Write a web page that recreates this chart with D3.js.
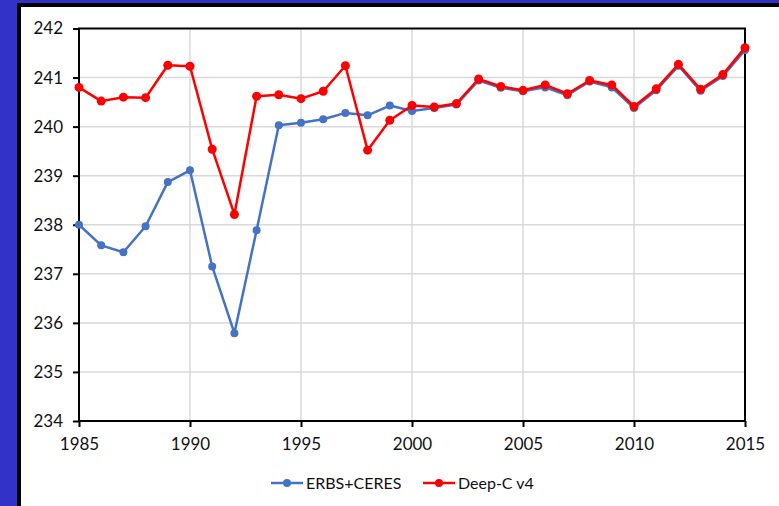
<!DOCTYPE html>
<html>
<head>
<meta charset="utf-8">
<script src="https://cdn.jsdelivr.net/npm/d3@7"></script>
<style>
  html, body { margin: 0; padding: 0; background: #3232c8; }
  svg { display: block; }
</style>
</head>
<body>
<svg id="chart" width="779" height="506"></svg>
<script>
// Absorbed solar / energy values per year, two reconstructions
const years = d3.range(1985, 2016);
const erbsCeres = [
  238.00, 237.58, 237.44, 237.97, 238.87, 239.11, 237.15, 235.79, 237.89, 240.03,
  240.08, 240.15, 240.28, 240.23, 240.43, 240.32, 240.38, 240.45, 240.94, 240.79,
  240.72, 240.80, 240.64, 240.92, 240.80, 240.38, 240.74, 241.24, 240.73, 241.03,
  241.56
];
const deepC = [
  240.80, 240.52, 240.60, 240.59, 241.25, 241.23, 239.54, 238.21, 240.62, 240.65,
  240.57, 240.72, 241.24, 239.52, 240.13, 240.43, 240.40, 240.47, 240.97, 240.82,
  240.74, 240.85, 240.67, 240.94, 240.85, 240.41, 240.77, 241.27, 240.76, 241.06,
  241.61
];
const xTicks = [1985, 1990, 1995, 2000, 2005, 2010, 2015];
const yTicks = [234, 235, 236, 237, 238, 239, 240, 241, 242];
const seriesNames = ["ERBS+CERES", "Deep-C v4"];
const seriesColors = ["#4472c4", "#ff0000"];

const W = 779, H = 506;
const svg = d3.select("#chart");
const font = "Lato, 'Open Sans', sans-serif";

// white panel with black frame on the top and left
svg.append("rect").attr("x", 17).attr("y", 3).attr("width", W - 17).attr("height", H - 3).attr("fill", "#000");
svg.append("rect").attr("x", 21).attr("y", 7).attr("width", W - 21).attr("height", H - 7).attr("fill", "#fff");

const m = { left: 79, right: 745, top: 28.5, bottom: 421 };
const x = d3.scaleLinear().domain([1985, 2015]).range([m.left, m.right]);
const y = d3.scaleLinear().domain([234, 242]).range([m.bottom, m.top]);

// gridlines
const g = svg.append("g");
g.selectAll("line.hg").data(yTicks).join("line")
  .attr("x1", m.left).attr("x2", m.right)
  .attr("y1", d => y(d)).attr("y2", d => y(d))
  .attr("stroke", "#d9d9d9").attr("stroke-width", 1.5);
g.selectAll("line.vg").data(xTicks).join("line")
  .attr("y1", m.top).attr("y2", m.bottom)
  .attr("x1", d => x(d)).attr("x2", d => x(d))
  .attr("stroke", "#d9d9d9").attr("stroke-width", 1.5);

// plot frame
svg.append("rect")
  .attr("x", m.left).attr("y", m.top)
  .attr("width", m.right - m.left).attr("height", m.bottom - m.top)
  .attr("fill", "none").attr("stroke", "#000").attr("stroke-width", 2);

// axes
const yAxis = svg.append("g").attr("transform", `translate(${m.left},0)`)
  .call(d3.axisLeft(y).tickValues(yTicks).tickSize(6).tickPadding(10).tickFormat(d3.format("d")));
const xAxis = svg.append("g").attr("transform", `translate(0,${m.bottom})`)
  .call(d3.axisBottom(x).tickValues(xTicks).tickSize(6).tickPadding(11).tickFormat(d3.format("d")));
[yAxis, xAxis].forEach(a => {
  a.select(".domain").remove();
  a.selectAll(".tick line").attr("stroke", "#000").attr("stroke-width", 2);
  a.selectAll("text").attr("fill", "#111").style("font-family", font).style("font-size", "17px");
});

// series
const series = [erbsCeres, deepC];
const line = d3.line().x((d, i) => x(years[i])).y(d => y(d));
series.forEach((vals, k) => {
  const sg = svg.append("g");
  sg.append("path").datum(vals)
    .attr("d", line).attr("fill", "none")
    .attr("stroke", seriesColors[k]).attr("stroke-width", 2.5)
    .attr("stroke-linejoin", "round");
  sg.selectAll("circle").data(vals).join("circle")
    .attr("cx", (d, i) => x(years[i])).attr("cy", d => y(d))
    .attr("r", k === 0 ? 4 : 4.5).attr("fill", seriesColors[k]);
});

// legend
const legendY = 483;
const legendX = [271, 423];
seriesNames.forEach((name, k) => {
  const lg = svg.append("g").attr("transform", `translate(${legendX[k]},${legendY})`);
  lg.append("line").attr("x1", 0).attr("x2", 32).attr("y1", 0).attr("y2", 0)
    .attr("stroke", seriesColors[k]).attr("stroke-width", 2.5);
  lg.append("circle").attr("cx", 16).attr("cy", 0).attr("r", 4).attr("fill", seriesColors[k]);
  lg.append("text").attr("x", 35).attr("y", 0).attr("dy", "0.35em")
    .attr("fill", "#111").style("font-family", font).style("font-size", "16px")
    .text(name);
});
</script>
</body>
</html>
